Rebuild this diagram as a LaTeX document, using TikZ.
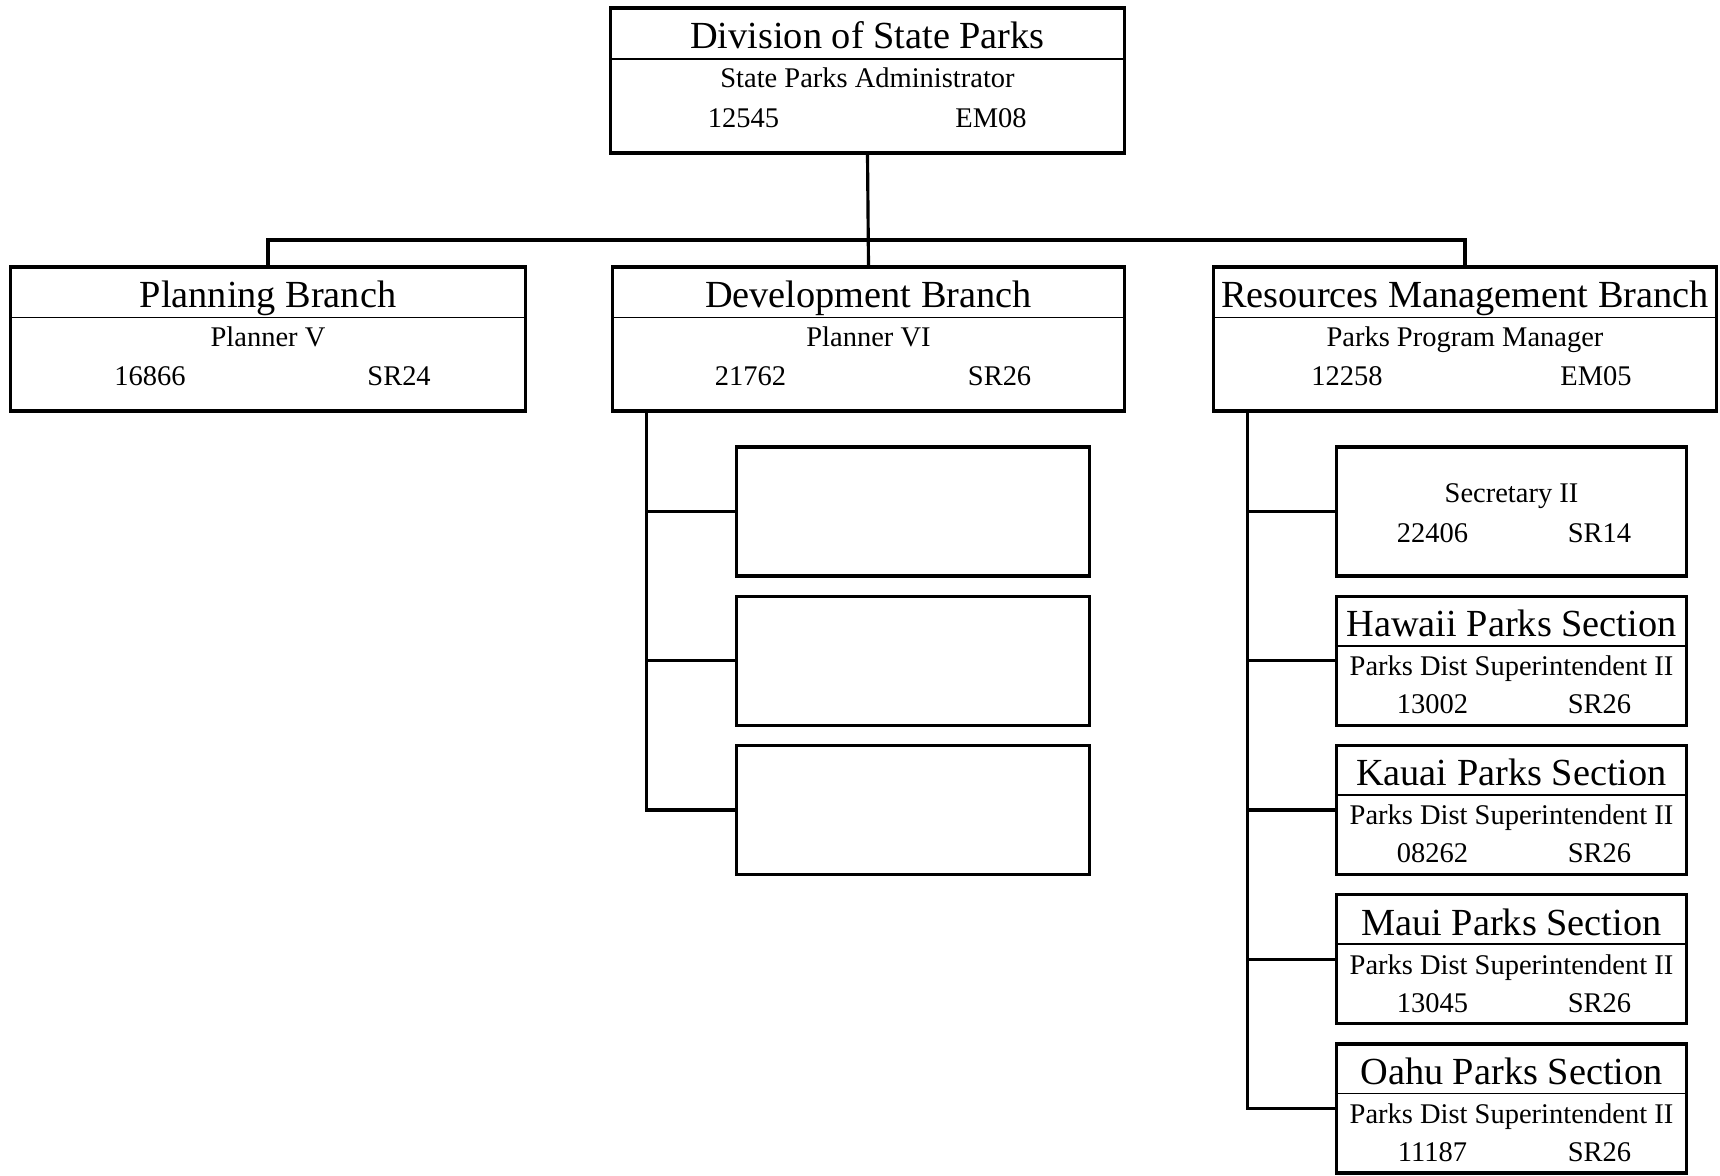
\documentclass[tikz,border=0pt]{standalone}
\usepackage{fontspec}
\setmainfont{Liberation Serif}
\usetikzlibrary{positioning}

\begin{document}
\begin{tikzpicture}[x=0.01cm, y=-0.01cm,
  box/.style={draw, line width=0.9pt, inner sep=0pt, minimum height=1.44cm},
  subbox/.style={draw, line width=0.9pt, inner sep=0pt, minimum width=3.5cm, minimum height=1.29cm},
  ttl/.style={font=\fontsize{10.9}{13}\selectfont, inner sep=0pt, anchor=base},
  txt/.style={font=\fontsize{8.1}{10}\selectfont, inner sep=0pt, anchor=base},
  rule/.style={line width=0.5pt},
  link/.style={line width=0.9pt}]
  \useasboundingbox (0,0) rectangle (1720,1176);

  % division head
  \node[box, minimum width=5.13cm, minimum height=1.45cm] (div) at (867.5,80.5) {};
  \draw[rule] ([yshift=-0.525cm]div.north west) -- ([yshift=-0.525cm]div.north east);
  \node[ttl] (div-t) at ([yshift=-0.425cm]div.north) {Division of State Parks};
  \node[txt] (div-p) at ([yshift=-0.81cm]div.north) {State Parks Administrator};
  \node[txt] (div-n) at ([xshift=-1.24cm,yshift=-1.215cm]div.north) {12545};
  \node[txt] (div-g) at ([xshift=1.235cm,yshift=-1.215cm]div.north) {EM08};

  % branches
  \foreach \bn/\bx/\bw/\bname/\bpos/\bnum/\bgrd in {
      plan/268/5.14/Planning Branch/Planner V/16866/SR24,
      dev/868.5/5.11/Development Branch/Planner VI/21762/SR26,
      res/1465/5.02/Resources Management Branch/Parks Program Manager/12258/EM05} {
    \node[box, minimum width=\bw cm] (\bn) at (\bx,339) {};
    \draw[rule] ([yshift=-0.52cm]\bn.north west) -- ([yshift=-0.52cm]\bn.north east);
    \node[ttl] (\bn-t) at ([yshift=-0.425cm]\bn.north) {\bname};
    \node[txt] (\bn-p) at ([yshift=-0.815cm]\bn.north) {\bpos};
    \node[txt] (\bn-n) at ([xshift=-1.18cm,yshift=-1.205cm]\bn.north) {\bnum};
    \node[txt] (\bn-g) at ([xshift=1.31cm,yshift=-1.205cm]\bn.north) {\bgrd};
  }

  \coordinate (bus) at (868,240);
  \draw[link] (div.south) -- (dev.north);
  \draw[link] (plan.north) -- (plan.north |- bus) -- (res.north |- bus) -- (res.north);

  % development units (empty)
  \node[subbox, minimum width=3.52cm] (devA) at (913,511.5) {};
  \node[subbox, minimum width=3.52cm, below=0.17cm of devA] (devB) {};
  \node[subbox, minimum width=3.52cm, below=0.17cm of devB] (devC) {};
  \foreach \s in {devA,devB,devC}
    \draw[link] ([xshift=0.35cm]dev.south west) |- (\s.west);

  % resources management units
  \node[subbox] (resA) at (1511.5,511.5) {};
  \node[subbox, below=0.17cm of resA] (resB) {};
  \node[subbox, below=0.17cm of resB] (resC) {};
  \node[subbox, below=0.17cm of resC] (resD) {};
  \node[subbox, below=0.17cm of resD] (resE) {};
  \foreach \s in {resA,resB,resC,resD,resE}
    \draw[link] ([xshift=0.35cm]res.south west) |- (\s.west);

  \node[txt] (resA-p) at ([yshift=-0.57cm]resA.north) {Secretary II};
  \node[txt] (resA-n) at ([xshift=-0.79cm,yshift=-0.97cm]resA.north) {22406};
  \node[txt] (resA-g) at ([xshift=0.88cm,yshift=-0.97cm]resA.north) {SR14};

  \foreach \sn/\isl/\snum in {resB/Hawaii/13002, resC/Kauai/08262, resD/Maui/13045, resE/Oahu/11187} {
    \draw[rule] ([yshift=-0.51cm]\sn.north west) -- ([yshift=-0.51cm]\sn.north east);
    \node[ttl] (\sn-t) at ([yshift=-0.42cm]\sn.north) {\isl\ Parks Section};
    \node[txt] (\sn-p) at ([yshift=-0.81cm]\sn.north) {Parks Dist Superintendent II};
    \node[txt] (\sn-n) at ([xshift=-0.79cm,yshift=-1.19cm]\sn.north) {\snum};
    \node[txt] (\sn-g) at ([xshift=0.88cm,yshift=-1.19cm]\sn.north) {SR26};
  }
\end{tikzpicture}
\end{document}
